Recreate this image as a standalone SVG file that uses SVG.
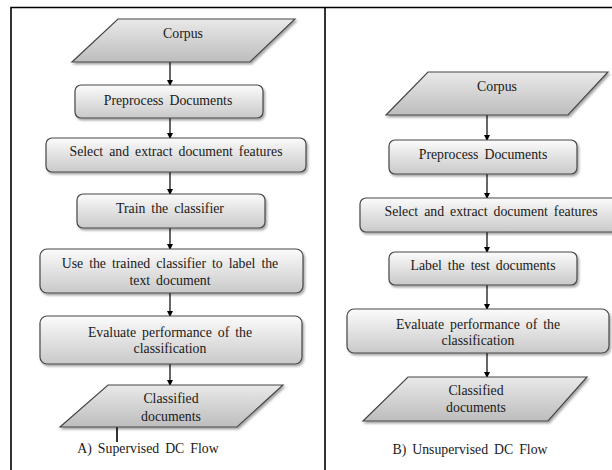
<svg xmlns="http://www.w3.org/2000/svg" width="612" height="470" viewBox="0 0 612 470">
<defs>
<linearGradient id="gBox" x1="0" y1="0" x2="0" y2="1">
<stop offset="0" stop-color="#fbfbfb"/>
<stop offset="1" stop-color="#c9c9c9"/>
</linearGradient>
<linearGradient id="gPar" x1="0" y1="0" x2="0" y2="1">
<stop offset="0" stop-color="#e9e9e9"/>
<stop offset="1" stop-color="#bdbdbd"/>
</linearGradient>
<filter id="sh" x="-10%" y="-20%" width="125%" height="150%">
<feDropShadow dx="1.5" dy="2" stdDeviation="1.2" flood-color="#000" flood-opacity="0.35"/>
</filter>
<marker id="ah" markerWidth="6" markerHeight="6" refX="5" refY="3" orient="auto" markerUnits="userSpaceOnUse">
<path d="M0,0 L6,3 L0,6 Z" fill="#000"/>
</marker>
</defs>
<style>
.box{fill:url(#gBox);stroke:#474747;stroke-width:1.2;filter:url(#sh)}
.par{fill:url(#gPar);stroke:#474747;stroke-width:1.2;filter:url(#sh)}
.t{font-size:13.8px;fill:#1a1a1a;text-anchor:middle;word-spacing:2.5px}
.c{stroke:#000;stroke-width:1.2;fill:none;marker-end:url(#ah)}
.frame{stroke:#000;stroke-width:1.6;fill:none}
</style>
<rect width="612" height="470" fill="#fff"/>
<g id="frame">
<path class="frame" d="M11,470 V7.5 H612 M325,7.5 V470"/>
</g>
<g id="connectors">
<line class="c" x1="170" y1="62" x2="170" y2="85"/>
<line class="c" x1="170" y1="118" x2="170" y2="138"/>
<line class="c" x1="170" y1="172" x2="170" y2="194"/>
<line class="c" x1="170" y1="228" x2="170" y2="249"/>
<line class="c" x1="170" y1="293" x2="170" y2="316"/>
<line class="c" x1="170" y1="364" x2="170" y2="385"/>
<line x1="117" y1="427" x2="117" y2="442" stroke="#000" stroke-width="1.6"/>
<line class="c" x1="487" y1="115" x2="487" y2="140"/>
<line class="c" x1="487" y1="174" x2="487" y2="198"/>
<line class="c" x1="487" y1="232" x2="487" y2="252"/>
<line class="c" x1="487" y1="285" x2="487" y2="309"/>
<line class="c" x1="487" y1="353" x2="487" y2="377"/>
</g>
<g font-family="Liberation Serif, Times New Roman, serif">
<g id="a-corpus">
<polygon class="par" points="118,19 295,19 250,62 72,62"/>
<text class="t" x="183" y="38">Corpus</text>
</g>
<g id="a-preprocess">
<rect class="box" x="75" y="85" width="188" height="33" rx="6"/>
<text class="t" x="168" y="105">Preprocess Documents</text>
</g>
<g id="a-select">
<rect class="box" x="46" y="138" width="260" height="34" rx="6"/>
<text class="t" x="176" y="156">Select and extract document features</text>
</g>
<g id="a-train">
<rect class="box" x="77" y="194" width="188" height="34" rx="6"/>
<text class="t" x="170" y="213">Train the classifier</text>
</g>
<g id="a-use">
<rect class="box" x="40" y="249" width="263" height="44" rx="7"/>
<text class="t" x="170" y="268">Use the trained classifier to label the</text>
<text class="t" x="170" y="285">text document</text>
</g>
<g id="a-evaluate">
<rect class="box" x="40" y="316" width="262" height="48" rx="7"/>
<text class="t" x="170" y="337">Evaluate performance of the</text>
<text class="t" x="170" y="353">classification</text>
</g>
<g id="a-classified">
<polygon class="par" points="108,385 283,385 237,427 60,427"/>
<text class="t" x="171" y="403">Classified</text>
<text class="t" x="171" y="421">documents</text>
</g>
<g id="a-label">
<text class="t" x="148" y="453">A) Supervised DC Flow</text>
</g>
<g id="b-corpus">
<polygon class="par" points="428,72 608,72 568,115 386,115"/>
<text class="t" x="497" y="91">Corpus</text>
</g>
<g id="b-preprocess">
<rect class="box" x="389" y="140" width="188" height="34" rx="6"/>
<text class="t" x="483" y="159">Preprocess Documents</text>
</g>
<g id="b-select">
<rect class="box" x="360" y="198" width="262" height="34" rx="6"/>
<text class="t" x="491" y="216">Select and extract document features</text>
</g>
<g id="b-label">
<rect class="box" x="389" y="252" width="188" height="33" rx="6"/>
<text class="t" x="483" y="270">Label the test documents</text>
</g>
<g id="b-evaluate">
<rect class="box" x="347" y="309" width="262" height="44" rx="7"/>
<text class="t" x="478" y="329">Evaluate performance of the</text>
<text class="t" x="478" y="345">classification</text>
</g>
<g id="b-classified">
<polygon class="par" points="408,377 587,377 548,421 363,421"/>
<text class="t" x="476" y="395">Classified</text>
<text class="t" x="476" y="412">documents</text>
</g>
<g id="b-caption">
<text class="t" x="470" y="454">B) Unsupervised DC Flow</text>
</g>
</g>
</svg>
